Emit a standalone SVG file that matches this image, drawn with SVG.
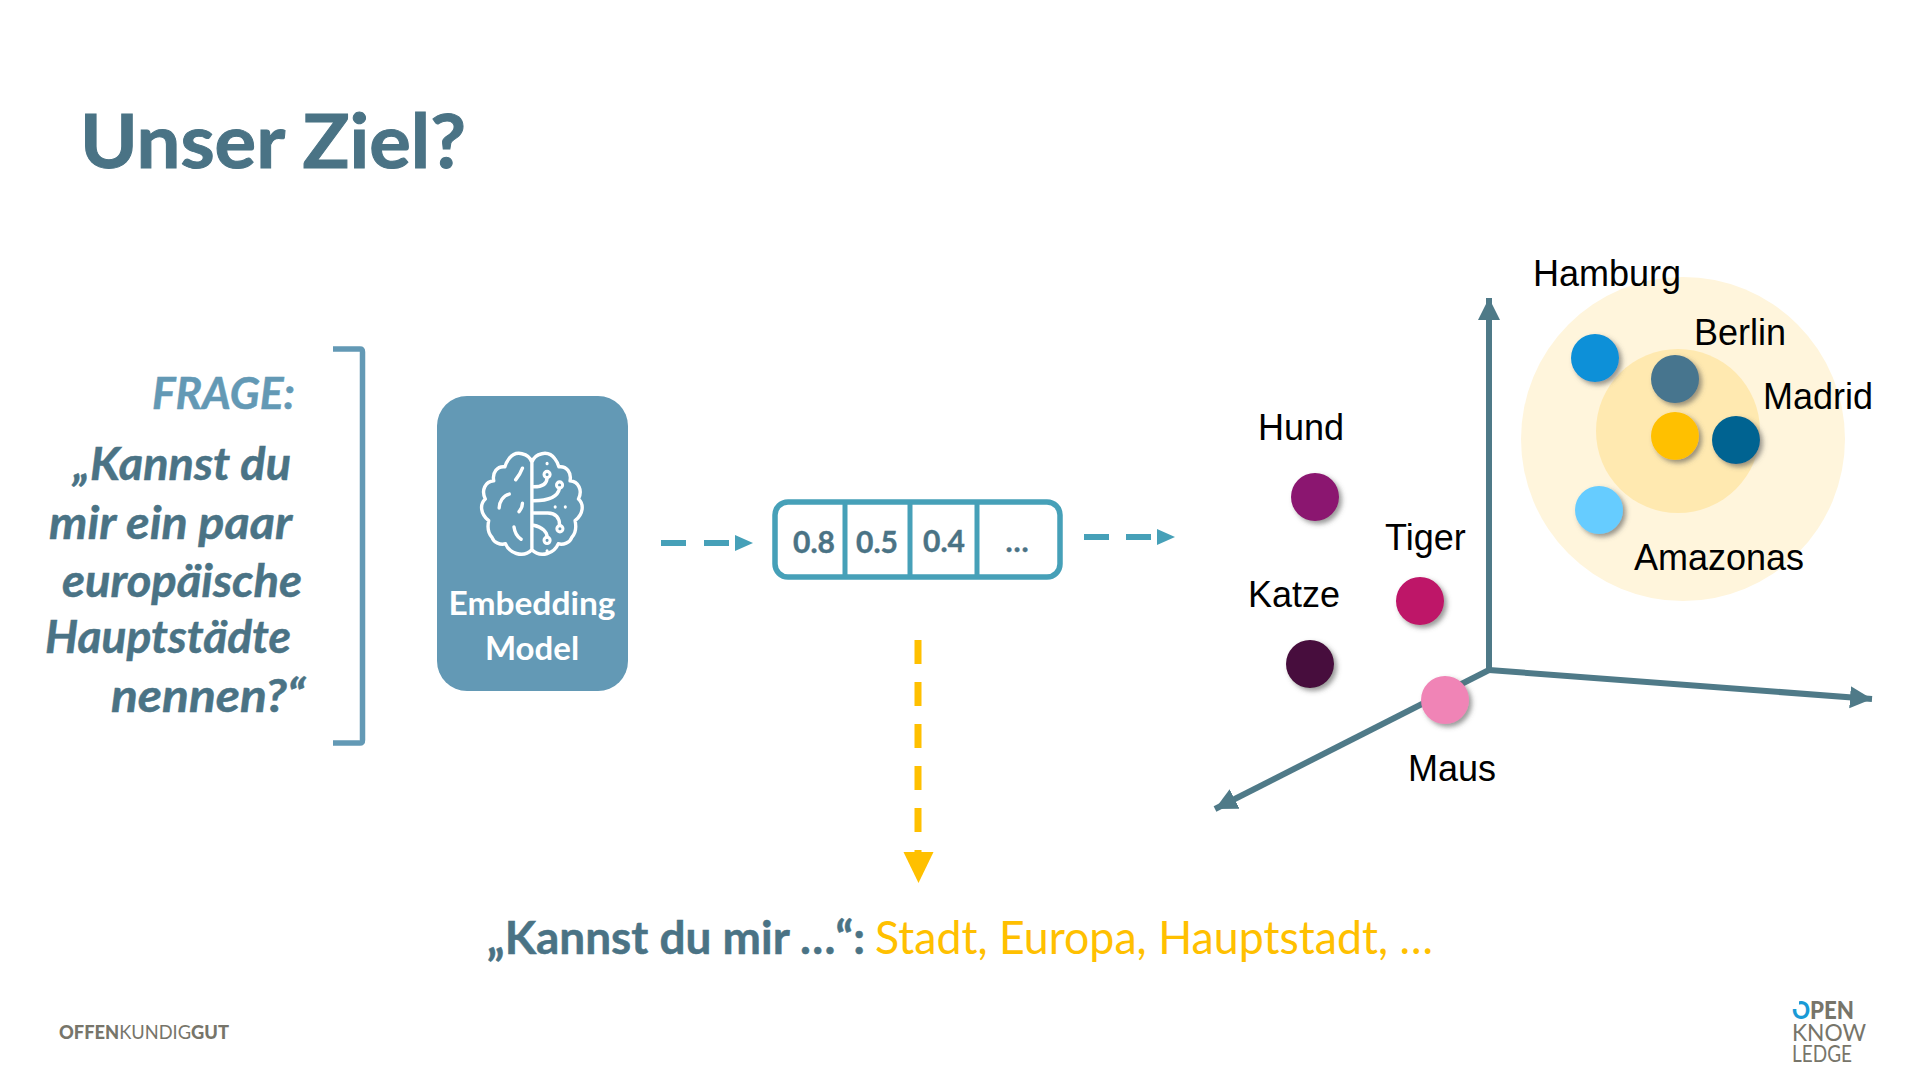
<svg xmlns="http://www.w3.org/2000/svg" width="1920" height="1080" viewBox="0 0 1920 1080">
<style>
.c{font-family:Lato,"Open Sans",sans-serif;font-weight:700}
.q{font-size:46px;font-style:italic;fill:#4a7385;stroke:#4a7385;stroke-width:.5}
.a{font-family:"Liberation Sans",Arial,sans-serif;font-size:36px;fill:#000}
.v{font-size:30px;fill:#4a7385;text-anchor:middle;stroke:#4a7385;stroke-width:.4}
.m{font-size:33px;fill:#fff;text-anchor:middle}
.b{font-size:46px}
.dot{filter:url(#sh)}
.br{fill:none;stroke:#fff;stroke-linecap:round;stroke-linejoin:round}
.ax{stroke:#4f7a88;stroke-width:6;fill:none}
.d{fill:none;stroke-width:6}
.lg{font-family:Lato,"Open Sans",sans-serif;fill:#77756a}
</style>
<defs>
<filter id="sh" x="-30%" y="-30%" width="170%" height="170%"><feDropShadow dx="3" dy="3" stdDeviation="2.500" flood-color="#555" flood-opacity=".6"/></filter>
<marker id="ta" markerUnits="userSpaceOnUse" markerWidth="20" markerHeight="20" refX="0" refY="10" orient="auto"><path d="M0 2L18 10L0 18Z" fill="#46a0b8"/></marker>
<marker id="tx" markerUnits="userSpaceOnUse" markerWidth="24" markerHeight="26" refX="22" refY="13" orient="auto"><path d="M0 2L22 13L0 24Z" fill="#4f7a88"/></marker>
</defs>
<rect width="1920" height="1080" fill="#fff"/>
<text id="title" class="c" x="80" y="168" font-size="74" fill="#4a7385" stroke="#4a7385" stroke-width="1" textLength="386" lengthAdjust="spacingAndGlyphs">Unser Ziel?</text>

<g id="frage">
<text class="c" x="152" y="409" font-size="43" font-style="italic" fill="#6399b5" stroke="#6399b5" stroke-width=".5" textLength="143" lengthAdjust="spacingAndGlyphs">FRAGE:</text>
<text class="c q" x="73" y="480" textLength="218" lengthAdjust="spacingAndGlyphs">„Kannst du</text>
<text class="c q" x="49" y="539" textLength="243" lengthAdjust="spacingAndGlyphs">mir ein paar</text>
<text class="c q" x="62" y="597" textLength="240" lengthAdjust="spacingAndGlyphs">europäische</text>
<text class="c q" x="45" y="653" textLength="246" lengthAdjust="spacingAndGlyphs">Hauptstädte</text>
<text class="c q" x="111" y="712" textLength="194" lengthAdjust="spacingAndGlyphs">nennen?“</text>
<path d="M333 349H360Q362.500 349 362.500 352V740Q362.500 743 360 743H333" fill="none" stroke="#6399b5" stroke-width="5.500"/>
</g>

<g id="embedding-model">
<rect x="437" y="396" width="191" height="295" rx="30" fill="#6399b5"/>
<g transform="translate(460 429) scale(.3375 .35)">
<path class="br" style="stroke-width:10" d="M213 95C205 70 165 58 145 85C137 95 135 100 133 108C110 105 95 125 100 148C75 150 62 175 75 200C58 215 60 242 85 262C80 285 85 300 95 310C100 325 120 332 135 328C145 352 185 372 213 345C241 372 281 352 291 328C306 332 326 325 331 310C341 300 346 285 341 262C366 242 368 215 351 200C364 175 351 150 326 148C331 125 316 105 293 108C291 100 289 95 281 85C261 58 221 70 213 95V345"/>
<path class="br" style="stroke-width:10" d="M185 112C180 125 172 137 165 145M146 186C128 190 116 208 116 226M185 212C185 222 180 230 175 236M160 280C162 295 170 308 181 315M258 139C258 160 240 165 218 165M295 169C290 195 260 205 218 205M218 240H260C285 240 295 255 295 275M218 275C245 280 258 295 258 308"/>
<circle class="br" style="stroke-width:9" cx="258" cy="130" r="9"/><circle class="br" style="stroke-width:9" cx="295" cy="160" r="9"/><circle class="br" style="stroke-width:9" cx="296" cy="285" r="9"/><circle class="br" style="stroke-width:9" cx="258" cy="318" r="9"/>
<path class="br" style="stroke-width:9" d="M258 98v1M282 222v1M312 222v1M258 348v1"/>
</g>
<text class="c m" x="532" y="615" textLength="167" lengthAdjust="spacingAndGlyphs">Embedding</text>
<text class="c m" x="532" y="660">Model</text>
</g>

<g id="vector">
<rect x="775" y="502" width="285" height="75" rx="13" fill="#fff" stroke="#46a0b8" stroke-width="5.500"/>
<path d="M845 502V577M910 502V577M977 502V577" stroke="#46a0b8" stroke-width="5"/>
<text class="c v" x="814" y="553">0.8</text>
<text class="c v" x="877" y="553">0.5</text>
<text class="c v" x="944" y="552">0.4</text>
<text class="c v" x="1017" y="552">…</text>
</g>

<g id="connectors">
<path class="d" d="M661 543H735" stroke="#46a0b8" stroke-dasharray="25 18" marker-end="url(#ta)"/>
<path class="d" d="M1084 537H1157" stroke="#46a0b8" stroke-dasharray="25 17" marker-end="url(#ta)"/>
<path d="M918 640V852" fill="none" stroke="#ffc000" stroke-width="7" stroke-dasharray="24 18"/>
<path d="M903.500 852H933.500L918.500 883Z" fill="#ffc000"/>
<path class="ax" d="M1489 670V298" marker-end="url(#tx)"/>
<path class="ax" d="M1489 670L1872 699" marker-end="url(#tx)"/>
<path class="ax" d="M1489 670L1215 809" marker-end="url(#tx)"/>
</g>

<g id="cluster">
<circle cx="1683" cy="439" r="162" fill="#fff5dc"/>
<circle cx="1678" cy="431" r="82" fill="#ffe9b0"/>
</g>
<g id="hamburg"><circle class="dot" cx="1595" cy="358" r="24" fill="#0a90d8"/><text class="a" x="1533" y="286">Hamburg</text></g>
<g id="berlin"><circle class="dot" cx="1675" cy="379" r="24" fill="#46748e"/><text class="a" x="1694" y="345">Berlin</text></g>
<g id="stadt"><circle class="dot" cx="1675" cy="436" r="24" fill="#ffc000"/></g>
<g id="madrid"><circle class="dot" cx="1736" cy="440" r="24" fill="#006491"/><text class="a" x="1763" y="409">Madrid</text></g>
<g id="amazonas"><circle class="dot" cx="1599" cy="510" r="24" fill="#66ccff"/><text class="a" x="1634" y="570">Amazonas</text></g>
<g id="hund"><circle class="dot" cx="1315" cy="497" r="24" fill="#8b1470"/><text class="a" x="1258" y="440">Hund</text></g>
<g id="tiger"><circle class="dot" cx="1420" cy="601" r="24" fill="#be1268"/><text class="a" x="1385" y="550">Tiger</text></g>
<g id="katze"><circle class="dot" cx="1310" cy="664" r="24" fill="#470a3c"/><text class="a" x="1248" y="607">Katze</text></g>
<g id="maus"><circle class="dot" cx="1445" cy="700" r="24" fill="#f084b6"/><text class="a" x="1408" y="781">Maus</text></g>

<g id="answer">
<text class="c b" x="487" y="954" fill="#4a7385" stroke="#4a7385" stroke-width=".5" textLength="378" lengthAdjust="spacingAndGlyphs">„Kannst du mir …“:</text>
<text class="c b" x="875" y="954" fill="#ffc000" style="font-weight:400" textLength="558" lengthAdjust="spacingAndGlyphs">Stadt, Europa, Hauptstadt, …</text>
</g>

<g id="logo-left">
<text class="lg" x="59" y="1039" font-size="19" textLength="170" lengthAdjust="spacingAndGlyphs"><tspan font-weight="900">OFFEN</tspan><tspan font-weight="400">KUNDIG</tspan><tspan font-weight="900">GUT</tspan></text>
</g>
<g id="logo-right">
<text class="lg" x="1792" y="1019" font-size="24" font-weight="900" textLength="62" lengthAdjust="spacingAndGlyphs"><tspan fill="#1a9ad6">O</tspan>PEN</text>
<rect x="1790" y="1000" width="9" height="9" fill="#fff"/>
<text class="lg" x="1792" y="1041" font-size="24" font-weight="400" textLength="74" lengthAdjust="spacingAndGlyphs">KNOW</text>
<text class="lg" x="1792" y="1062" font-size="24" font-weight="400" textLength="60" lengthAdjust="spacingAndGlyphs">LEDGE</text>
</g>
</svg>
